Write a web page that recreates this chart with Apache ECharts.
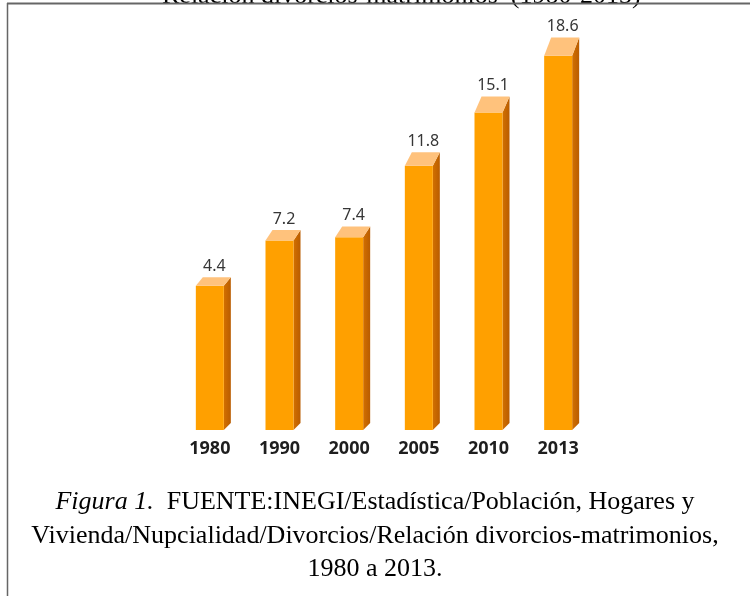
<!DOCTYPE html>
<html>
<head>
<meta charset="utf-8">
<script src="https://cdn.jsdelivr.net/npm/echarts/dist/echarts.min.js"></script>
<style>
html,body{margin:0;padding:0;background:#fff;}
#chart{width:750px;height:596px;}
</style>
</head>
<body>
<div id="chart"></div>
<script>
const years = ['1980', '1990', '2000', '2005', '2010', '2013'];
const ratios = [4.4, 7.2, 7.4, 11.8, 15.1, 18.6];
const titleText = 'Relación divorcios-matrimonios  (1980-2013)';
const captionLine1Italic = 'Figura 1.';
const captionLine1Rest = '  FUENTE:INEGI/Estadística/Población, Hogares y';
const captionLine2 = 'Vivienda/Nupcialidad/Divorcios/Relación divorcios-matrimonios,';
const captionLine3 = '1980 a 2013.';

const Y_MIN = -4.5;
const Y_MAX = 20;
const SERIF = '"Liberation Serif", "Times New Roman", serif';

const chart = echarts.init(document.getElementById('chart'), null, {renderer: 'canvas'});

function renderItem(params, api) {
  const i = api.value(0);
  const v = api.value(1);
  const top = api.coord([i, v]);
  const base = api.coord([i, Y_MIN]);
  const w = 28, dx = 7;
  const x0 = top[0] - w / 2, x1 = x0 + w;
  const yT = top[1], yB = base[1];
  const h = yB - yT;
  const d = 2.5 + 0.042 * h;
  return {
    type: 'group',
    children: [
      {
        type: 'polygon',
        shape: {points: [[x1, yT], [x1 + dx, yT - d], [x1 + dx, yB - 7], [x1, yB]]},
        style: {
          fill: new echarts.graphic.LinearGradient(0, 0, 1, 0, [
            {offset: 0, color: '#D27000'},
            {offset: 1, color: '#B95C00'}
          ])
        }
      },
      {
        type: 'rect',
        shape: {x: x0, y: yT, width: w, height: yB - yT},
        style: {fill: '#FFA000'}
      },
      {
        type: 'polygon',
        shape: {points: [[x0, yT], [x1, yT], [x1 + dx, yT - d], [x0 + dx, yT - d]]},
        style: {fill: '#FFC27C'}
      },
      {
        type: 'text',
        style: {
          x: top[0] + dx / 2 + 1,
          y: yT - d - 11,
          text: String(v),
          fill: '#363636',
          font: '16px "Noto Sans", sans-serif',
          align: 'center',
          verticalAlign: 'middle'
        }
      }
    ]
  };
}

const option = {
  animation: false,
  backgroundColor: '#fff',
  grid: {left: 175, right: 157, top: 33, bottom: 166},
  xAxis: {
    type: 'category',
    data: years,
    axisLine: {show: false},
    axisTick: {show: false},
    axisLabel: {
      margin: 10,
      color: '#1e1e1e',
      fontWeight: 'bold',
      fontSize: 18,
      fontFamily: '"Noto Sans", sans-serif'
    }
  },
  yAxis: {
    type: 'value',
    min: Y_MIN,
    max: Y_MAX,
    show: false,
    splitLine: {show: false}
  },
  series: [{
    type: 'custom',
    renderItem: renderItem,
    encode: {x: 0, y: 1},
    data: ratios.map((v, i) => [i, v])
  }],
  graphic: [
    {
      type: 'text',
      x: 162, y: -4,
      style: {
        text: titleText,
        fill: '#000',
        font: '26px ' + SERIF,
        align: 'left',
        verticalAlign: 'middle'
      }
    },
    {
      type: 'line',
      shape: {x1: 7, y1: 3.5, x2: 750, y2: 3.5},
      style: {stroke: '#666', lineWidth: 2}
    },
    {
      type: 'line',
      shape: {x1: 7.5, y1: 3, x2: 7.5, y2: 596},
      style: {stroke: '#666', lineWidth: 1.5}
    },
    {
      type: 'text',
      x: 375, y: 502,
      style: {
        text: '{i|' + captionLine1Italic + '}' + captionLine1Rest,
        fill: '#000',
        font: '26px ' + SERIF,
        align: 'center',
        verticalAlign: 'middle',
        rich: {i: {fontStyle: 'italic', fontSize: 26, fontFamily: SERIF}}
      }
    },
    {
      type: 'text',
      x: 375, y: 536,
      style: {
        text: captionLine2,
        fill: '#000',
        font: '26px ' + SERIF,
        align: 'center',
        verticalAlign: 'middle'
      }
    },
    {
      type: 'text',
      x: 375, y: 569,
      style: {
        text: captionLine3,
        fill: '#000',
        font: '26px ' + SERIF,
        align: 'center',
        verticalAlign: 'middle'
      }
    }
  ]
};
chart.setOption(option);
</script>
</body>
</html>
